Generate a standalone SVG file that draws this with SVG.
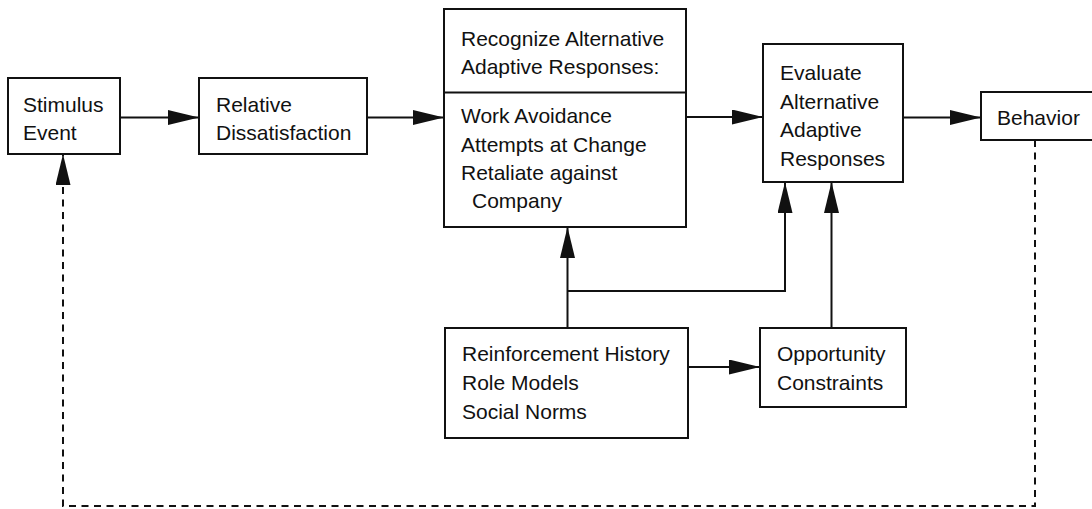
<svg xmlns="http://www.w3.org/2000/svg" width="1092" height="509" viewBox="0 0 1092 509">
  <style>
    .box { fill: #fff; stroke: #111; stroke-width: 2; }
    .lbl { font-family: "Liberation Sans", Arial, Helvetica, sans-serif; font-size: 21px; fill: #111; }
    .wire { fill: none; stroke: #111; stroke-width: 2; }
    .dash { fill: none; stroke: #111; stroke-width: 2; stroke-dasharray: 7 5.5; }
  </style>
  <defs>
    <marker id="head" markerUnits="userSpaceOnUse" markerWidth="32" markerHeight="16" refX="31" refY="7.5" orient="auto">
      <path d="M0,0 L31,7.5 L0,15 Z" fill="#111"/>
    </marker>
  </defs>
  <rect width="1092" height="509" fill="#fff"/>

  <g id="connectors">
    <line class="wire" x1="120" y1="117.5" x2="199" y2="117.5" marker-end="url(#head)"/>
    <line class="wire" x1="367" y1="117.5" x2="444" y2="117.5" marker-end="url(#head)"/>
    <line class="wire" x1="686" y1="117" x2="763" y2="117" marker-end="url(#head)"/>
    <line class="wire" x1="903" y1="117.5" x2="981" y2="117.5" marker-end="url(#head)"/>
    <line class="wire" x1="567.5" y1="328" x2="567.5" y2="227" marker-end="url(#head)"/>
    <polyline class="wire" points="567.5,291 785,291 785,182" marker-end="url(#head)"/>
    <line class="wire" x1="831.5" y1="328" x2="831.5" y2="182" marker-end="url(#head)"/>
    <line class="wire" x1="688" y1="367" x2="760" y2="367" marker-end="url(#head)"/>
    <polyline class="dash" points="1035,140 1035,506 63,506 63,154" marker-end="url(#head)"/>
  </g>

  <g id="stimulus">
    <rect class="box" x="8" y="78" width="112" height="76"/>
    <text class="lbl" x="23" y="112">Stimulus</text>
    <text class="lbl" x="23" y="140">Event</text>
  </g>

  <g id="dissatisfaction">
    <rect class="box" x="199" y="78" width="168" height="76"/>
    <text class="lbl" x="216" y="112">Relative</text>
    <text class="lbl" x="216" y="140">Dissatisfaction</text>
  </g>

  <g id="recognize">
    <rect class="box" x="444" y="9" width="242" height="218"/>
    <line class="wire" x1="444" y1="92.5" x2="686" y2="92.5"/>
    <text class="lbl" x="461" y="46">Recognize Alternative</text>
    <text class="lbl" x="461" y="74">Adaptive Responses:</text>
    <text class="lbl" x="461" y="123">Work Avoidance</text>
    <text class="lbl" x="461" y="152">Attempts at Change</text>
    <text class="lbl" x="461" y="180">Retaliate against</text>
    <text class="lbl" x="472" y="208">Company</text>
  </g>

  <g id="evaluate">
    <rect class="box" x="763" y="44" width="140" height="138"/>
    <text class="lbl" x="780" y="80">Evaluate</text>
    <text class="lbl" x="780" y="109">Alternative</text>
    <text class="lbl" x="780" y="137">Adaptive</text>
    <text class="lbl" x="780" y="166">Responses</text>
  </g>

  <g id="behavior">
    <rect class="box" x="981" y="92" width="114" height="48"/>
    <text class="lbl" x="997" y="125">Behavior</text>
  </g>

  <g id="history">
    <rect class="box" x="445" y="328" width="243" height="110"/>
    <text class="lbl" x="462" y="361">Reinforcement History</text>
    <text class="lbl" x="462" y="390">Role Models</text>
    <text class="lbl" x="462" y="419">Social Norms</text>
  </g>

  <g id="opportunity">
    <rect class="box" x="760" y="328" width="146" height="79"/>
    <text class="lbl" x="777" y="361">Opportunity</text>
    <text class="lbl" x="777" y="390">Constraints</text>
  </g>
</svg>
